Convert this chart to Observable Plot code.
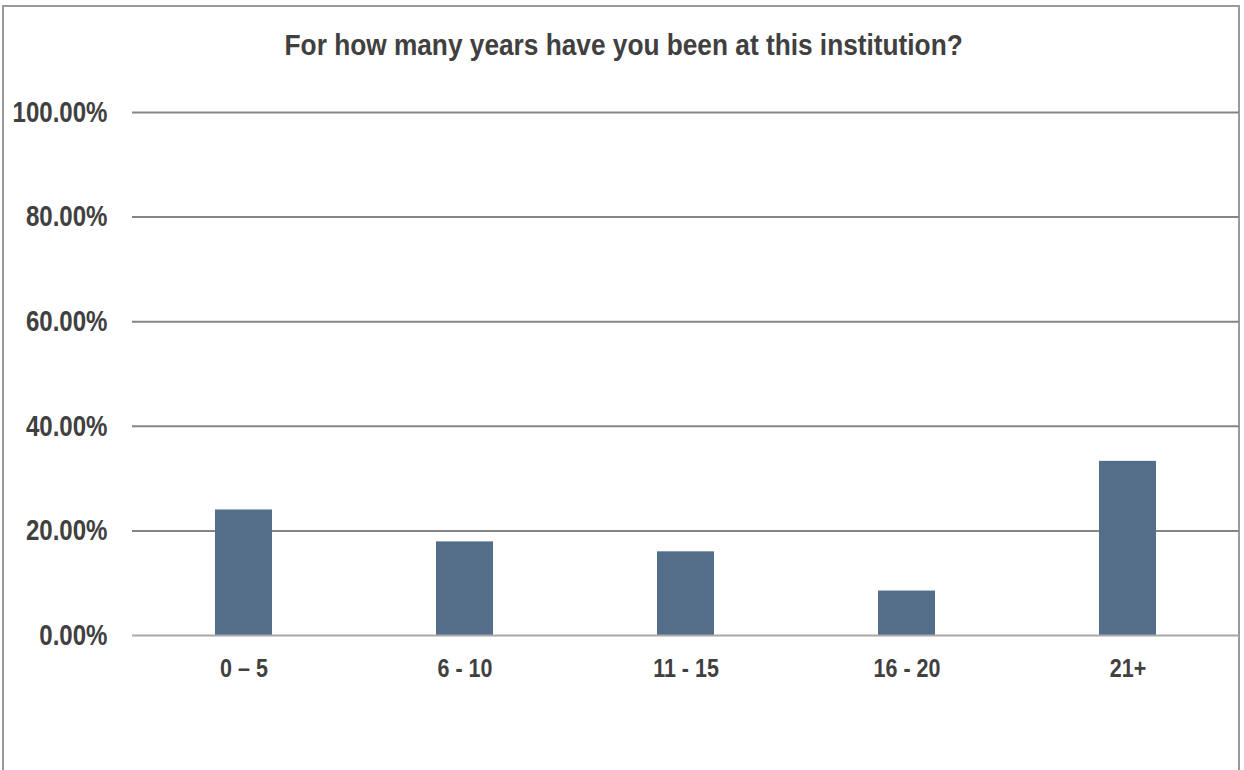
<!DOCTYPE html>
<html>
<head>
<meta charset="utf-8">
<script src="https://cdn.jsdelivr.net/npm/d3@7"></script>
<script src="https://cdn.jsdelivr.net/npm/@observablehq/plot@0.6"></script>
<style>
  html, body { margin: 0; padding: 0; background: #fff; }
  body { width: 1244px; height: 770px; overflow: hidden; position: relative;
         font-family: "Liberation Sans", Arial, sans-serif; }
  #frame { position: absolute; left: 2px; top: 5px; width: 1238px; height: 800px;
           border: 2px solid #9a9a9a; box-sizing: border-box; }
  #title { position: absolute; left: 0; width: 1248px; top: 31px; text-align: center;
           font-size: 29px; font-weight: bold; color: #404040; line-height: 1; }
  #title span { display: inline-block; transform: scaleX(0.905); transform-origin: 50% 50%; white-space: nowrap; }
  #chart { position: absolute; left: 0; top: 0; }
</style>
</head>
<body>
<div id="frame"></div>
<div id="title"><span>For how many years have you been at this institution?</span></div>
<div id="chart"></div>
<script>
const categories = ["0 – 5", "6 - 10", "11 - 15", "16 - 20", "21+"];
const values = [24.0, 17.9, 16.0, 8.5, 33.3];
const yTicks = [0, 20, 40, 60, 80, 100];

const data = categories.map((c, i) => ({category: c, value: values[i]}));
const pct = d => d.toFixed(2) + "%";

const plot = Plot.plot({
  width: 1244,
  height: 770,
  marginTop: 112,
  marginBottom: 135,
  marginLeft: 132,
  marginRight: 5,
  style: {
    fontFamily: '"Liberation Sans", Arial, sans-serif',
    fontWeight: "bold",
    color: "#404040",
    background: "transparent",
    overflow: "visible"
  },
  x: {domain: categories, paddingInner: 0.74, paddingOuter: 0.37, label: null},
  y: {domain: [0, 100], label: null},
  marks: [
    Plot.ruleY(yTicks.filter(d => d > 0), {stroke: "#858585", strokeWidth: 2}),
    Plot.barY(data, {x: "category", y: "value", fill: "#546e8a"}),
    Plot.ruleY([0], {stroke: "#a8a8a8", strokeWidth: 2}),
    Plot.axisY({ticks: yTicks, tickSize: 0, tickPadding: 25, label: null,
      tickFormat: pct, fontSize: 29, fontWeight: "bold", fill: "#404040"}),
    Plot.axisX({tickSize: 0, tickPadding: 23, label: null, fontSize: 25.6, fontWeight: "bold", fill: "#404040"})
  ]
});
document.getElementById("chart").appendChild(plot);

// Condense tick labels horizontally (narrow font look)
function condense(selector, sx) {
  plot.querySelectorAll(selector).forEach(t => {
    const tr = t.getAttribute("transform") || "";
    t.setAttribute("transform", tr + ` scale(${sx},1)`);
  });
}
condense('g[aria-label="y-axis tick label"] text', 0.83);
condense('g[aria-label="x-axis tick label"] text', 0.84);
</script>
</body>
</html>
